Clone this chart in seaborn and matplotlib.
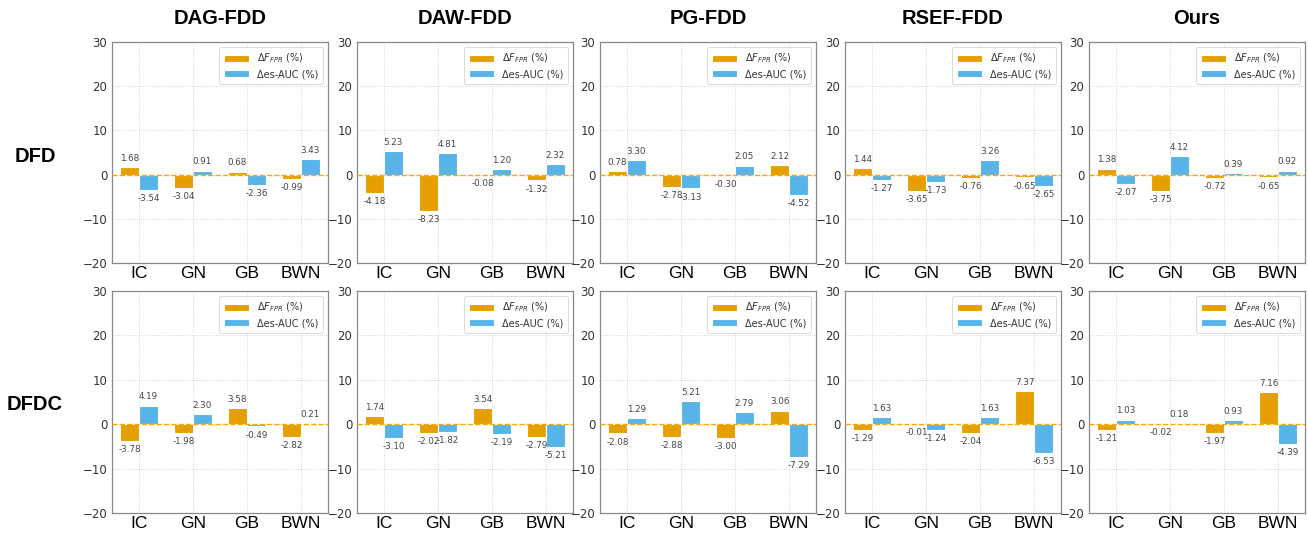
import pandas as pd
import matplotlib
matplotlib.use("Agg")
import matplotlib.pyplot as plt
import seaborn as sns

methods = ["DAG-FDD", "DAW-FDD", "PG-FDD", "RSEF-FDD", "Ours"]
datasets = ["DFD", "DFDC"]
perturbs = ["IC", "GN", "GB", "BWN"]

# delta F_FPR (%) per dataset, per method
dfd_fpr = {
    "DAG-FDD": [1.68, -3.04, 0.68, -0.99],
    "DAW-FDD": [-4.18, -8.23, -0.08, -1.32],
    "PG-FDD": [0.78, -2.78, -0.30, 2.12],
    "RSEF-FDD": [1.44, -3.65, -0.76, -0.65],
    "Ours": [1.38, -3.75, -0.72, -0.65],
}
dfd_auc = {
    "DAG-FDD": [-3.54, 0.91, -2.36, 3.43],
    "DAW-FDD": [5.23, 4.81, 1.20, 2.32],
    "PG-FDD": [3.30, -3.13, 2.05, -4.52],
    "RSEF-FDD": [-1.27, -1.73, 3.26, -2.65],
    "Ours": [-2.07, 4.12, 0.39, 0.92],
}
dfdc_fpr = {
    "DAG-FDD": [-3.78, -1.98, 3.58, -2.82],
    "DAW-FDD": [1.74, -2.02, 3.54, -2.79],
    "PG-FDD": [-2.08, -2.88, -3.00, 3.06],
    "RSEF-FDD": [-1.29, -0.01, -2.04, 7.37],
    "Ours": [-1.21, -0.02, -1.97, 7.16],
}
dfdc_auc = {
    "DAG-FDD": [4.19, 2.30, -0.49, 0.21],
    "DAW-FDD": [-3.10, -1.82, -2.19, -5.21],
    "PG-FDD": [1.29, 5.21, 2.79, -7.29],
    "RSEF-FDD": [1.63, -1.24, 1.63, -6.53],
    "Ours": [1.03, 0.18, 0.93, -4.39],
}

fpr_label = r"$\Delta F_{FPR}$ (%)"
auc_label = "Δes-AUC (%)"
palette = {fpr_label: "#E69F00", auc_label: "#56B4E9"}

sns.set_style("whitegrid")
plt.rcParams["font.family"] = ["DejaVu Sans"]
head_font = "Liberation Sans"

fig = plt.figure(figsize=(13.08, 5.36), dpi=100)
W, H = 1308, 536
lefts = [112, 357, 600, 845, 1089]
aw = 216
rows = [(42, 263), (291, 513)]

for r, ds in enumerate(datasets):
    fpr_src = dfd_fpr if ds == "DFD" else dfdc_fpr
    auc_src = dfd_auc if ds == "DFD" else dfdc_auc
    top, bot = rows[r]
    for c, m in enumerate(methods):
        ax = fig.add_axes([lefts[c] / W, 1 - bot / H, aw / W, (bot - top) / H])
        df = pd.DataFrame({
            "perturb": perturbs * 2,
            "value": fpr_src[m] + auc_src[m],
            "metric": [fpr_label] * 4 + [auc_label] * 4,
        })
        sns.barplot(data=df, x="perturb", y="value", hue="metric", palette=palette,
                    saturation=1, width=0.7, edgecolor="white", linewidth=0.8,
                    ax=ax, legend=True)
        ax.axhline(0, color="#FFA500", ls="--", lw=1, zorder=3)
        for cont in ax.containers:
            for bar in cont:
                v = bar.get_height()
                x = bar.get_x() + bar.get_width() / 2
                if v >= 0:
                    ax.annotate(f"{v:.2f}", (x, v), xytext=(0, 3), textcoords="offset points",
                                ha="center", va="bottom", fontsize=6.3, color="#444444")
                else:
                    ax.annotate(f"{v:.2f}", (x, v), xytext=(0, -3), textcoords="offset points",
                                ha="center", va="top", fontsize=6.3, color="#444444")
        ax.set_ylim(-20, 30)
        ax.set_yticks([-20, -10, 0, 10, 20, 30])
        ax.set_xlim(-0.5, 3.5)
        ax.set_xlabel("")
        ax.set_ylabel("")
        ax.tick_params(axis="y", labelsize=8.5, direction="in", length=3, colors="#333333")
        ax.tick_params(axis="x", labelsize=12.5, direction="in", length=3, pad=2)
        for t in ax.get_xticklabels():
            t.set_fontfamily(head_font)
            t.set_color("black")
        ax.grid(True, ls=":", lw=0.6, color="#cccccc")
        for s in ax.spines.values():
            s.set_color("#888888")
            s.set_linewidth(0.9)
        leg = ax.legend(loc="upper right", fontsize=7, frameon=True, handlelength=2.6,
                        borderpad=0.5, labelspacing=0.4)
        leg.get_frame().set_edgecolor("#cccccc")
        leg.get_frame().set_linewidth(0.6)
        for t in leg.get_texts():
            t.set_color("#333333")
        if r == 0:
            ax.set_title(m, fontsize=14.5, fontweight="bold", fontfamily=head_font,
                         color="black", pad=13)

fig.text(35 / W, 1 - 157 / H, "DFD", fontsize=14.5, fontweight="bold", fontfamily=head_font,
         color="black", ha="center", va="center")
fig.text(35 / W, 1 - 405 / H, "DFDC", fontsize=14.5, fontweight="bold", fontfamily=head_font,
         color="black", ha="center", va="center")

fig.savefig("out.png", dpi=100)
